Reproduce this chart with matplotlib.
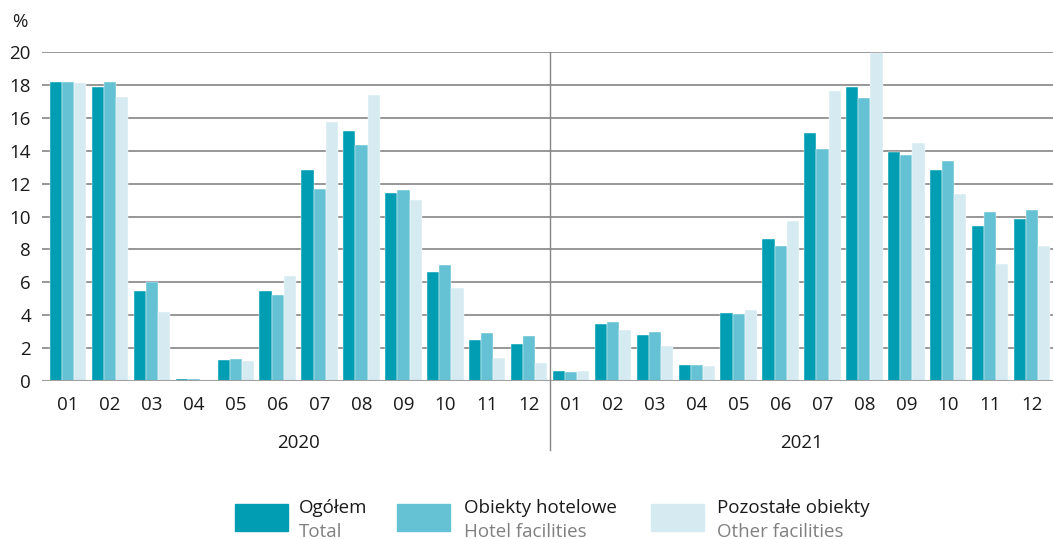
import matplotlib.pyplot as plt
import numpy as np
from matplotlib.patches import Rectangle

plt.rcParams['font.family'] = ['Open Sans', 'DejaVu Sans']

months = ['01', '02', '03', '04', '05', '06', '07', '08', '09', '10', '11', '12']
years = ['2020', '2021']

# percent share per month, 2020 then 2021
total = [18.2, 17.9, 5.5, 0.1, 1.3, 5.5, 12.8, 15.2, 11.4, 6.65, 2.5, 2.27,
         0.59, 3.48, 2.78, 0.97, 4.11, 8.61, 15.06, 17.89, 13.9, 12.83, 9.42, 9.83]
hotel = [18.2, 18.2, 6.0, 0.15, 1.35, 5.2, 11.7, 14.33, 11.63, 7.05, 2.92, 2.72,
         0.55, 3.6, 3.0, 0.99, 4.05, 8.19, 14.12, 17.18, 13.72, 13.36, 10.25, 10.4]
other = [18.1, 17.26, 4.2, 0.02, 1.2, 6.4, 15.74, 17.39, 10.98, 5.63, 1.4, 1.11,
         0.63, 3.1, 2.13, 0.91, 4.3, 9.73, 17.61, 19.96, 14.47, 11.35, 7.09, 8.21]

names_pl = ['Ogółem', 'Obiekty hotelowe', 'Pozostałe obiekty']
names_en = ['Total', 'Hotel facilities', 'Other facilities']
colors = ['#009db3', '#64c2d4', '#d5ebf1']

fs = 13.5
W, H = 1053, 539
fig = plt.figure(figsize=(W / 100, H / 100), dpi=100)
ax = fig.add_axes([42 / W, 1 - 381 / H, 1 - 42 / W, (381 - 52) / H])

x = np.arange(len(total))
bw = 0.29
for k, vals in enumerate([total, hotel, other]):
    ax.bar(x + (k - 1) * bw, vals, width=bw, color=colors[k], edgecolor='white',
           linewidth=0.3, zorder=3)

ax.set_xlim(-0.625, 23.5)
ax.set_ylim(0, 20)
ax.set_yticks(range(0, 21, 2))
ax.yaxis.grid(True, color='#858585', linewidth=1.2, zorder=0)
ax.set_axisbelow(True)
for s in ax.spines.values():
    s.set_visible(False)
ax.axhline(0, color='#a0a0a0', linewidth=1.5, zorder=4)
ax.tick_params(axis='both', length=0, labelsize=fs, colors='#1a1a1a')
ax.tick_params(axis='y', pad=8)
ax.tick_params(axis='x', pad=11)
ax.set_xticks(x)
ax.set_xticklabels(months * 2)

# divider between years
ax.plot([11.5, 11.5], [0, 20], color='#858585', linewidth=1.0, zorder=5)
ax.plot([11.5, 11.5], [0, -4.2], color='#858585', linewidth=1.0, clip_on=False)

for i, yr in enumerate(years):
    ax.text(5.5 + 12 * i, -3.75, yr, ha='center', va='center', fontsize=fs,
            color='#1a1a1a')

fig.text(20 / W, 1 - 22 / H, '%', ha='center', va='center', fontsize=fs,
         color='#1a1a1a')

# legend
patch_x = [235, 397, 651]
text_x = [299, 464, 717]
for k in range(3):
    fig.patches.append(Rectangle((patch_x[k] / W, 1 - 531 / H), 53 / W, 27 / H,
                                 transform=fig.transFigure, color=colors[k]))
    fig.text(text_x[k] / W, 1 - 508 / H, names_pl[k], ha='left', va='center',
             fontsize=fs, color='#1a1a1a')
    fig.text(text_x[k] / W, 1 - 532 / H, names_en[k], ha='left', va='center',
             fontsize=fs, color='#808080')

fig.savefig('out.png', dpi=100)
